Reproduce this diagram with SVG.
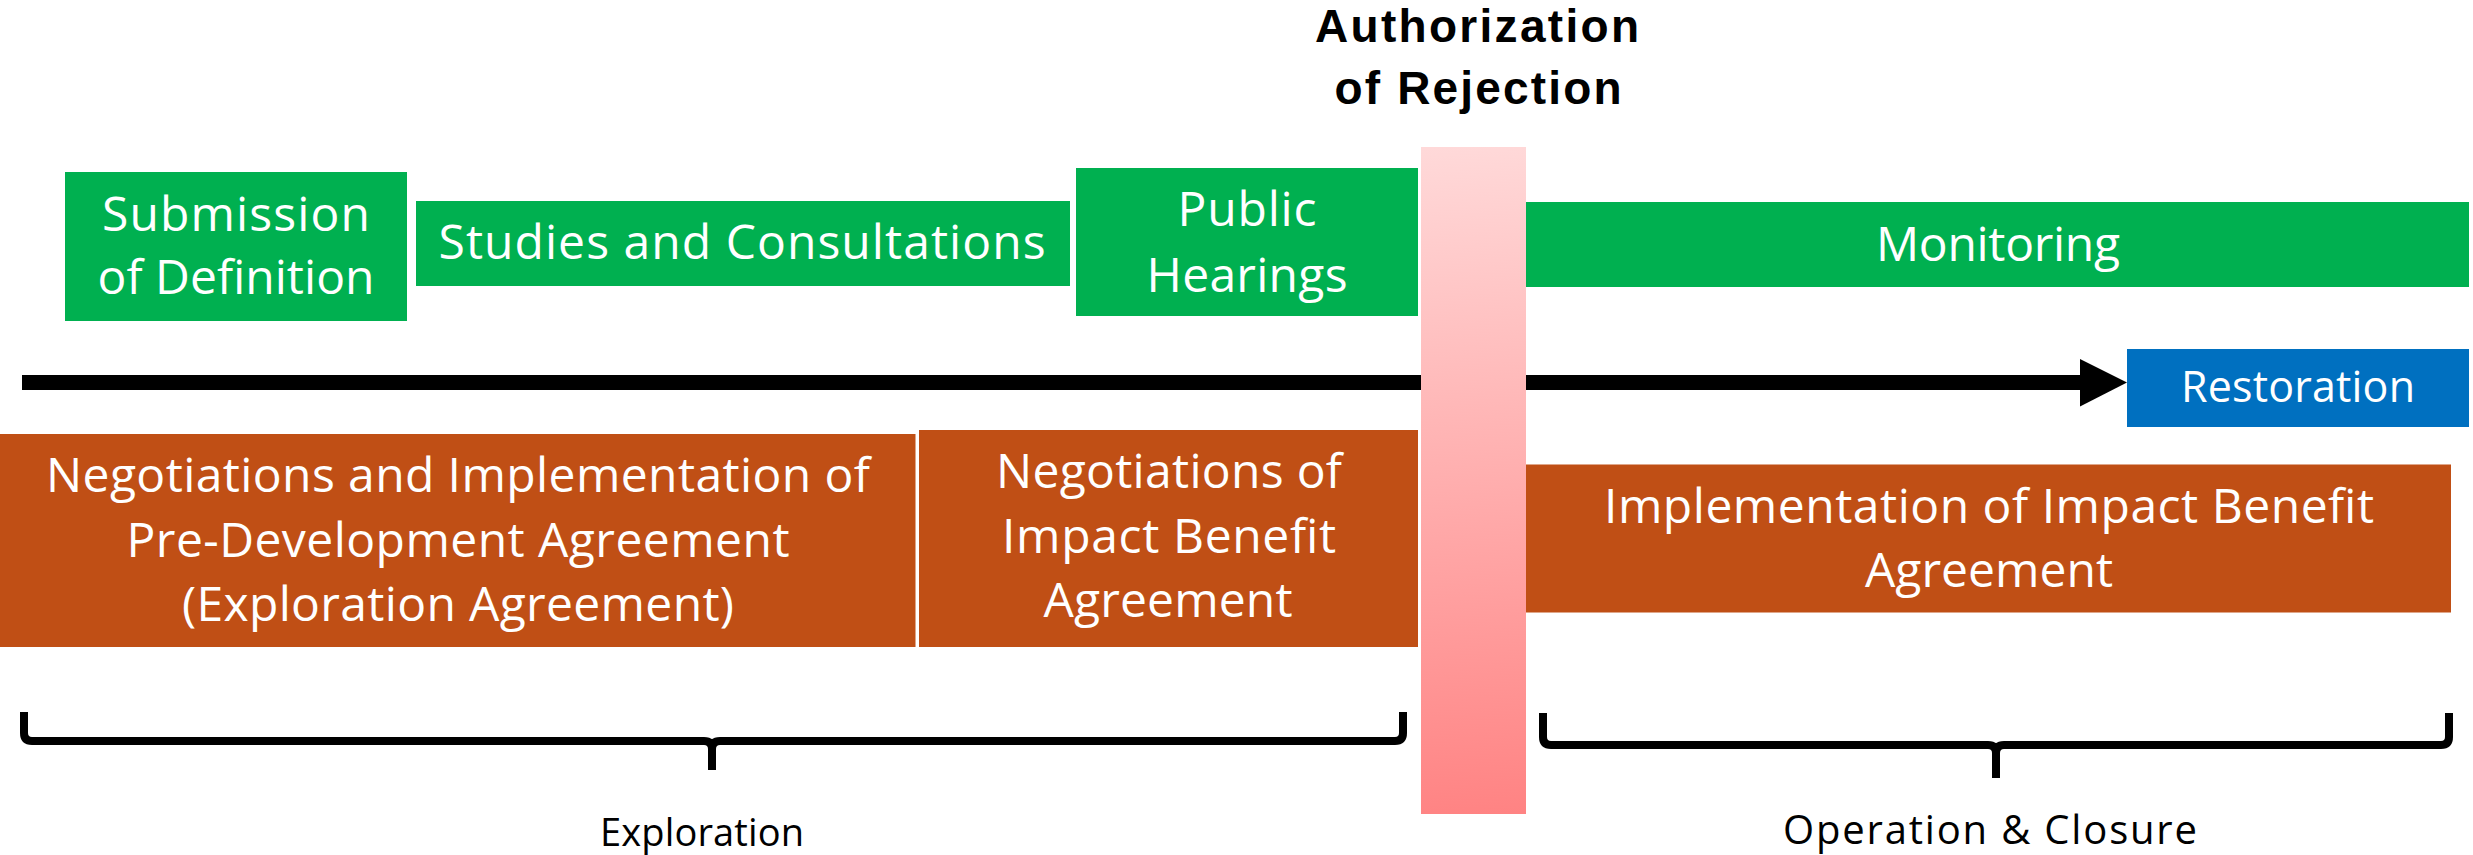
<svg xmlns="http://www.w3.org/2000/svg" width="2473" height="855" viewBox="0 0 2473 855">
<style>
.green{fill:#00B050}
.orange{fill:#C04F15}
.blue{fill:#0070C0}
.t{font-family:"Open Sans","Liberation Sans",sans-serif;font-size:48px;fill:#FFFFFF;text-anchor:middle}
.lbl{font-family:"Open Sans","Liberation Sans",sans-serif;font-size:38px;fill:#000000;text-anchor:middle}
.hdr{font-family:"Liberation Sans",Arial,sans-serif;font-size:46px;font-weight:bold;fill:#000000;text-anchor:middle}
.brace{fill:none;stroke:#000000;stroke-width:8;stroke-linecap:butt;stroke-linejoin:round}
</style>
<defs>
<linearGradient id="pinkGrad" gradientUnits="userSpaceOnUse" x1="1445" y1="147" x2="1502" y2="814">
<stop offset="0" stop-color="#FFD9D9"/>
<stop offset="1" stop-color="#FF8383"/>
</linearGradient>
</defs>
<rect width="2473" height="855" fill="#FFFFFF"/>
<g id="connectors">
<rect x="22" y="375" width="2060" height="15" fill="#000000"/>
<polygon points="2080,359 2127,382.5 2080,406.5" fill="#000000"/>
</g>
<g id="authorization">
<rect x="1421" y="147" width="105" height="667" fill="url(#pinkGrad)"/>
<text class="hdr" x="1477" y="42" textLength="324" lengthAdjust="spacing">Authorization</text>
<text class="hdr" x="1478" y="104" textLength="287" lengthAdjust="spacing">of Rejection</text>
</g>
<g id="submission">
<rect class="green" x="65" y="172" width="342" height="149"/>
<text class="t" x="236" y="231" textLength="268" lengthAdjust="spacing">Submission</text>
<text class="t" x="236" y="294" textLength="277" lengthAdjust="spacing">of Definition</text>
</g>
<g id="studies">
<rect class="green" x="416" y="201" width="654" height="85"/>
<text class="t" x="742" y="259" textLength="607" lengthAdjust="spacing">Studies and Consultations</text>
</g>
<g id="hearings">
<rect class="green" x="1076" y="168" width="342" height="148"/>
<text class="t" x="1247" y="226" textLength="139" lengthAdjust="spacing">Public</text>
<text class="t" x="1247" y="292" textLength="201" lengthAdjust="spacing">Hearings</text>
</g>
<g id="monitoring">
<rect class="green" x="1526" y="202" width="943" height="85"/>
<text class="t" x="1998" y="261" textLength="244" lengthAdjust="spacing">Monitoring</text>
</g>
<g id="restoration">
<rect class="blue" x="2127" y="349" width="342" height="78"/>
<text class="t" x="2298" y="402" style="font-size:43px" textLength="234" lengthAdjust="spacing">Restoration</text>
</g>
<g id="pda">
<rect class="orange" x="0" y="434" width="915.5" height="213"/>
<text class="t" x="458" y="492" textLength="824" lengthAdjust="spacing">Negotiations and Implementation of</text>
<text class="t" x="458" y="557" textLength="663" lengthAdjust="spacing">Pre-Development Agreement</text>
<text class="t" x="458" y="621" textLength="552" lengthAdjust="spacing">(Exploration Agreement)</text>
</g>
<g id="iba-negotiation">
<rect class="orange" x="919" y="430" width="499" height="217"/>
<text class="t" x="1169" y="488" textLength="346" lengthAdjust="spacing">Negotiations of</text>
<text class="t" x="1169" y="553" textLength="334" lengthAdjust="spacing">Impact Benefit</text>
<text class="t" x="1168" y="617" textLength="249" lengthAdjust="spacing">Agreement</text>
</g>
<g id="iba-implementation">
<rect class="orange" x="1526" y="464.5" width="925" height="148"/>
<text class="t" x="1989" y="523" textLength="770" lengthAdjust="spacing">Implementation of Impact Benefit</text>
<text class="t" x="1989" y="587" textLength="248" lengthAdjust="spacing">Agreement</text>
</g>
<g id="exploration">
<path class="brace" d="M24 712 V733 Q24 741 32 741 H704 Q712 741 712 749 V770 M712 749 Q712 741 720 741 H1395 Q1403 741 1403 733 V712"/>
<text class="lbl" x="702" y="846" textLength="204" lengthAdjust="spacing">Exploration</text>
</g>
<g id="operation">
<path class="brace" d="M1543 713 V737 Q1543 745 1551 745 H1988 Q1996 745 1996 753 V778 M1996 753 Q1996 745 2004 745 H2441 Q2449 745 2449 737 V713"/>
<text class="lbl" x="1990" y="844" style="font-size:40px" textLength="414" lengthAdjust="spacing">Operation &amp; Closure</text>
</g>
</svg>
